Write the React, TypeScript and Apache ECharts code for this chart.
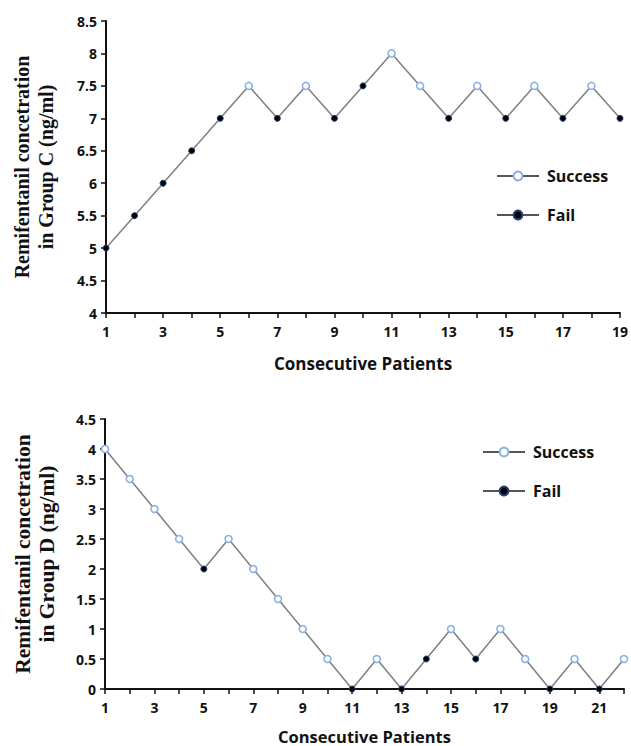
import React, { useEffect, useRef } from "react";
import * as echarts from "echarts";

const patientsC = Array.from({ length: 19 }, (_, i) => String(i + 1));
const valuesC = [5, 5.5, 6, 6.5, 7, 7.5, 7, 7.5, 7, 7.5, 8, 7.5, 7, 7.5, 7, 7.5, 7, 7.5, 7];
const outcomeC = ["F", "F", "F", "F", "F", "S", "F", "S", "F", "F", "S", "S", "F", "S", "F", "S", "F", "S", "F"];

const patientsD = Array.from({ length: 22 }, (_, i) => String(i + 1));
const valuesD = [4, 3.5, 3, 2.5, 2, 2.5, 2, 1.5, 1, 0.5, 0, 0.5, 0, 0.5, 1, 0.5, 1, 0.5, 0, 0.5, 0, 0.5];
const outcomeD = ["S", "S", "S", "S", "F", "S", "S", "S", "S", "S", "F", "S", "F", "F", "S", "F", "S", "S", "F", "S", "F", "S"];

const yTitleC = "Remifentanil concetration\nin Group C (ng/ml)";
const yTitleD = "Remifentanil concetration\nin Group D (ng/ml)";
const xTitle = "Consecutive Patients";

const SANS = "'Open Sans', Lato, sans-serif";
const SERIF = "'Liberation Serif', 'DejaVu Serif', serif";

const successStyle = { color: "#ffffff", borderColor: "#8db3e2", borderWidth: 1.6 };
const failStyle = { color: "#000000", borderColor: "#1f3f7a", borderWidth: 1 };

export default function App() {
  const ref = useRef<HTMLDivElement>(null);
  useEffect(() => {
    if (!ref.current) return;
    const chart = echarts.init(ref.current, null, { renderer: "svg" });

    const xAxisBase = (gridIndex: number, cats: string[], gap: number, fs: number) => ({
      type: "category" as const,
      gridIndex,
      data: cats,
      boundaryGap: false,
      name: xTitle,
      nameLocation: "middle" as const,
      nameGap: gap,
      nameTextStyle: { fontFamily: SANS, fontWeight: "bold", fontSize: fs, color: "#111", lineHeight: 18 },
      axisLine: { lineStyle: { color: "#111", width: 2 } },
      axisTick: { show: true, interval: 0, length: 5, lineStyle: { color: "#111", width: 1.5 } },
      axisLabel: { interval: 1, margin: 11, fontFamily: SANS, fontWeight: "bold", fontSize: 14, color: "#111" },
      splitLine: { show: false },
    });

    const yAxisBase = (gridIndex: number, min: number, max: number, title: string, fs: number, gap: number) => ({
      type: "value" as const,
      gridIndex,
      min,
      max,
      interval: 0.5,
      name: title,
      nameLocation: "middle" as const,
      nameRotate: 90,
      nameGap: gap,
      nameTextStyle: { fontFamily: SERIF, fontWeight: "bold", fontSize: fs, color: "#111", lineHeight: 24, align: "center" },
      axisLine: { show: true, lineStyle: { color: "#111", width: 2 } },
      axisTick: { show: true, length: 5, lineStyle: { color: "#111", width: 1.5 } },
      axisLabel: { margin: 9, fontFamily: SANS, fontWeight: "bold", fontSize: 14, color: "#111" },
      splitLine: { show: false },
    });

    const pick = (vals: number[], out: string[], k: string) => vals.map((v, i) => (out[i] === k ? v : "-"));

    const markerSeries = (idx: number, vals: number[], out: string[]) => [
      {
        name: "Success",
        type: "line" as const,
        xAxisIndex: idx,
        yAxisIndex: idx,
        data: pick(vals, out, "S"),
        symbol: "circle",
        symbolSize: 7,
        showSymbol: true,
        itemStyle: successStyle,
        lineStyle: { width: 0, opacity: 0, color: "#666" },
        z: 5,
      },
      {
        name: "Fail",
        type: "line" as const,
        xAxisIndex: idx,
        yAxisIndex: idx,
        data: pick(vals, out, "F"),
        symbol: "circle",
        symbolSize: 6,
        showSymbol: true,
        itemStyle: failStyle,
        lineStyle: { width: 0, opacity: 0, color: "#666" },
        z: 5,
      },
    ];

    const legendBase = (left: number, top: number) => ({
      orient: "vertical" as const,
      left,
      top,
      itemGap: 23,
      itemWidth: 42,
      itemHeight: 11,
      textStyle: { fontFamily: SANS, fontWeight: "bold", fontSize: 16, color: "#111", padding: [0, 0, 0, 3] },
      data: [
        { name: "Success", lineStyle: { width: 2, opacity: 1, color: "#555" } },
        { name: "Fail", lineStyle: { width: 2, opacity: 1, color: "#555" } },
      ],
      selectedMode: false,
    });

    chart.setOption({
      animation: false,
      backgroundColor: "#ffffff",
      grid: [
        { left: 106, top: 21, width: 517, height: 292 },
        { left: 105, top: 419, width: 519, height: 271 },
      ],
      xAxis: [xAxisBase(0, patientsC, 41, 17), xAxisBase(1, patientsD, 38, 16.5)],
      yAxis: [yAxisBase(0, 4, 8.5, yTitleC, 20, 48), yAxisBase(1, 0, 4.5, yTitleD, 21.5, 46)],
      legend: [legendBase(491, 163), legendBase(477, 439)],
      series: [
        {
          name: "lineC",
          type: "line",
          xAxisIndex: 0,
          yAxisIndex: 0,
          data: valuesC,
          symbol: "none",
          lineStyle: { color: "#7f7f7f", width: 1.5 },
          z: 2,
        },
        ...markerSeries(0, valuesC, outcomeC),
        {
          name: "lineD",
          type: "line",
          xAxisIndex: 1,
          yAxisIndex: 1,
          data: valuesD,
          symbol: "none",
          lineStyle: { color: "#7f7f7f", width: 1.5 },
          z: 2,
        },
        ...markerSeries(1, valuesD, outcomeD),
      ],
    });
    return () => chart.dispose();
  }, []);
  return <div ref={ref} style={{ position: "fixed", left: 0, top: 0, width: 631, height: 746, background: "#fff" }} />;
}
